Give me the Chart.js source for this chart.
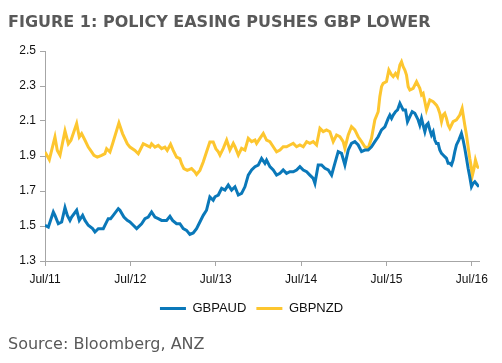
<!DOCTYPE html>
<html lang="en">
<head>
  <meta charset="UTF-8">
  <title>Policy easing pushes GBP lower</title>
  <script src="https://cdn.jsdelivr.net/npm/chart.js"></script>
  <style>
    body { margin: 0; background: #fff; }
    #wrap { position: relative; width: 502px; height: 363px; }
    #title { position: absolute; left: 8px; top: 13px; font: bold 16px 'DejaVu Sans'; color: #595959; line-height: 17px; white-space: nowrap; }
    #source { position: absolute; left: 8px; top: 335px; font: 16px 'DejaVu Sans'; color: #595959; line-height: 17px; white-space: nowrap; }
    canvas { position: absolute; left: 0; top: 0; }
  </style>
</head>
<body>
<div id="wrap">
  <canvas id="myChart" width="502" height="363"></canvas>
  <div id="title">FIGURE 1: POLICY EASING PUSHES GBP LOWER</div>
  <div id="source">Source: Bloomberg, ANZ</div>
</div>

<script>
  // months since Jul 2011
  const audMonths = [0, 0.47, 1.17, 1.40, 1.87, 2.34, 2.81, 3.14, 3.51, 3.74, 4.45, 4.82, 5.29, 5.62, 6.08, 6.69, 7.02, 7.49, 8.19, 8.42,
    8.89, 9.22, 9.59, 10.30, 10.53, 11.09, 11.56, 11.94, 12.41, 12.88, 13.58, 14.05, 14.51, 14.98, 15.45, 15.92, 16.39, 17.09, 17.56, 17.93,
    18.49, 18.96, 19.43, 19.90, 20.36, 20.83, 21.30, 21.77, 22.24, 22.70, 23.17, 23.64, 23.89, 24.36, 24.83, 25.29, 25.76, 26.23, 26.70, 27.17,
    27.63, 28.10, 28.57, 29.04, 29.51, 29.97, 30.44, 30.91, 31.14, 31.61, 32.08, 32.55, 33.02, 33.48, 33.95, 34.42, 34.89, 35.36, 35.83, 36.30,
    36.77, 37.23, 37.70, 37.94, 38.40, 38.87, 39.34, 39.81, 40.28, 40.74, 41.21, 41.68, 42.15, 42.62, 43.08, 43.55, 44.02, 44.49, 44.96, 45.42,
    45.89, 46.36, 46.83, 47.30, 47.77, 48.24, 48.47, 48.71, 48.94, 49.27, 49.55, 49.88, 50.11, 50.34, 50.67, 50.95, 51.28, 51.61, 51.98, 52.22,
    52.45, 52.68, 52.92, 53.15, 53.39, 53.62, 53.85, 54.09, 54.32, 54.56, 54.79, 55.02, 55.26, 55.49, 55.73, 55.96, 56.19, 56.43, 56.66, 56.90,
    57.13, 57.36, 57.60, 57.83, 58.16, 58.53, 58.77, 59.00, 59.24, 59.47, 59.70, 59.94, 60.17, 60.41, 60.78, 61.00];
  const gbpaud = [1.504, 1.494, 1.580, 1.561, 1.513, 1.523, 1.605, 1.561, 1.532, 1.551, 1.590, 1.532, 1.561, 1.532, 1.504, 1.485, 1.466, 1.485, 1.485, 1.504,
    1.542, 1.542, 1.561, 1.599, 1.590, 1.551, 1.532, 1.523, 1.504, 1.485, 1.513, 1.542, 1.551, 1.580, 1.551, 1.542, 1.532, 1.532, 1.555, 1.532,
    1.513, 1.513, 1.485, 1.475, 1.452, 1.460, 1.485, 1.523, 1.561, 1.590, 1.666, 1.647, 1.667, 1.677, 1.715, 1.705, 1.734, 1.705, 1.724, 1.677,
    1.686, 1.724, 1.791, 1.820, 1.839, 1.848, 1.886, 1.858, 1.877, 1.839, 1.820, 1.791, 1.801, 1.820, 1.801, 1.810, 1.810, 1.820, 1.839, 1.820,
    1.810, 1.791, 1.772, 1.744, 1.849, 1.849, 1.830, 1.820, 1.791, 1.858, 1.925, 1.915, 1.849, 1.934, 1.972, 1.982, 1.963, 1.925, 1.934, 1.934,
    1.953, 1.982, 2.010, 2.049, 2.067, 2.115, 2.134, 2.115, 2.134, 2.153, 2.163, 2.201, 2.182, 2.163, 2.163, 2.096, 2.125, 2.153, 2.144, 2.125,
    2.106, 2.077, 2.115, 2.077, 2.039, 2.077, 2.087, 2.049, 2.020, 2.039, 1.991, 1.972, 1.972, 1.934, 1.915, 1.906, 1.896, 1.887, 1.858, 1.858,
    1.849, 1.877, 1.925, 1.963, 1.991, 2.029, 1.991, 1.944, 1.887, 1.830, 1.782, 1.725, 1.744, 1.753, 1.734, 1.725];

  const nzdMonths = [0, 0.61, 1.40, 1.73, 2.11, 2.81, 3.28, 3.65, 4.45, 4.82, 5.15, 5.62, 6.08, 6.41, 6.88, 7.35, 7.96, 8.42, 8.66, 9.13,
    9.50, 10.39, 10.90, 11.56, 11.94, 12.64, 13.11, 13.81, 14.28, 14.75, 14.98, 15.45, 15.92, 16.39, 16.85, 17.18, 17.65, 18.02, 18.49, 18.96,
    19.19, 19.52, 19.99, 20.60, 21.07, 21.30, 21.77, 22.24, 22.70, 23.17, 23.64, 24.01, 24.36, 24.59, 25.06, 25.53, 25.99, 26.46, 26.70, 27.17,
    27.63, 28.10, 28.57, 29.04, 29.51, 29.74, 30.21, 30.68, 31.14, 31.61, 32.08, 32.55, 33.02, 33.48, 33.95, 34.42, 34.89, 35.36, 35.83, 36.30,
    36.77, 37.23, 37.70, 38.17, 38.64, 39.11, 39.57, 40.04, 40.51, 40.98, 41.45, 41.91, 42.15, 42.62, 43.08, 43.55, 44.02, 44.49, 44.96, 45.42,
    45.89, 46.36, 46.83, 47.06, 47.30, 47.53, 48.00, 48.33, 48.71, 48.94, 49.27, 49.55, 49.88, 50.11, 50.34, 50.58, 50.81, 51.05, 51.28, 51.75,
    52.22, 52.68, 52.92, 53.15, 53.39, 53.62, 53.85, 54.09, 54.56, 55.02, 55.26, 55.49, 55.73, 55.96, 56.19, 56.43, 56.66, 56.90, 57.13, 57.36,
    57.83, 58.30, 58.63, 59.00, 59.24, 59.47, 59.70, 59.94, 60.03, 60.31, 60.50, 60.78, 61.00];
  const gbpnzd = [1.923, 1.879, 2.009, 1.932, 1.904, 2.043, 1.970, 1.990, 2.085, 2.009, 2.028, 1.990, 1.951, 1.932, 1.904, 1.894, 1.904, 1.913, 1.942, 1.923,
    1.970, 2.089, 2.028, 1.970, 1.951, 1.932, 1.913, 1.970, 1.961, 1.951, 1.970, 1.951, 1.961, 1.942, 1.951, 1.932, 1.967, 1.932, 1.894, 1.885,
    1.856, 1.828, 1.818, 1.828, 1.809, 1.795, 1.818, 1.866, 1.923, 1.980, 1.980, 1.942, 1.924, 1.905, 1.944, 1.991, 1.934, 1.972, 1.953, 1.905,
    1.944, 1.934, 2.001, 1.982, 1.991, 1.972, 2.001, 2.029, 1.991, 1.982, 1.953, 1.924, 1.934, 1.953, 1.953, 1.963, 1.972, 1.953, 1.963, 1.953,
    1.982, 1.972, 1.982, 1.963, 2.058, 2.039, 2.049, 2.039, 1.982, 2.020, 2.010, 1.982, 1.944, 2.020, 2.068, 2.049, 2.010, 1.982, 1.953, 1.944,
    2.001, 2.106, 2.153, 2.239, 2.296, 2.315, 2.325, 2.391, 2.363, 2.353, 2.372, 2.353, 2.420, 2.439, 2.410, 2.391, 2.363, 2.296, 2.277, 2.287,
    2.325, 2.287, 2.249, 2.258, 2.210, 2.163, 2.191, 2.220, 2.210, 2.191, 2.172, 2.144, 2.096, 2.134, 2.144, 2.115, 2.077, 2.058, 2.077, 2.096,
    2.106, 2.134, 2.172, 2.077, 2.020, 1.953, 1.887, 1.830, 1.782, 1.830, 1.877, 1.839, 1.830];

  const xTickMonths = [0, 12, 24, 36, 48, 60];
  const xTickLabels = ['Jul/11', 'Jul/12', 'Jul/13', 'Jul/14', 'Jul/15', 'Jul/16'];
  const yTicks = [1.3, 1.5, 1.7, 1.9, 2.1, 2.3, 2.5];

  const toPoints = (xs, ys) => xs.map((x, i) => ({ x: x, y: ys[i] }));
  const axisColor = '#A6A6A6';
  const tickFont = { family: "'Liberation Sans', Arial, sans-serif", size: 12 };

  // nudge the legend so it sits centred like the original
  const legendShift = {
    id: 'legendShift',
    afterLayout(c) {
      if (c.legend) {
        c.legend.left += 12;
        c.legend.right += 12;
      }
    }
  };

  const ctx = document.getElementById('myChart').getContext('2d');
  const chart = new Chart(ctx, {
    type: 'line',
    data: {
      datasets: [{
        label: 'GBPAUD',
        data: toPoints(audMonths, gbpaud),
        borderColor: '#0A78B9',
        backgroundColor: '#0A78B9',
        borderWidth: 3,
        pointRadius: 0,
        tension: 0
      },
      {
        label: 'GBPNZD',
        data: toPoints(nzdMonths, gbpnzd),
        borderColor: '#FDC62F',
        backgroundColor: '#FDC62F',
        borderWidth: 3,
        pointRadius: 0,
        tension: 0
      }]
    },
    plugins: [legendShift],
    options: {
      responsive: false,
      animation: false,
      layout: { padding: { left: 0, top: 51, right: 23, bottom: 38 } },
      plugins: {
        tooltip: { enabled: false },
        legend: {
          position: 'bottom',
          labels: {
            boxWidth: 26,
            boxHeight: 3,
            padding: 10,
            color: '#111',
            font: { family: "'Liberation Sans', Arial, sans-serif", size: 13 },
            generateLabels: (c) => Chart.defaults.plugins.legend.labels.generateLabels(c).map(item => {
              item.lineWidth = 0;
              return item;
            })
          }
        }
      },
      scales: {
        x: {
          type: 'linear',
          min: 0,
          max: 61,
          afterFit: (s) => { s.height = 31; },
          afterBuildTicks: (s) => { s.ticks = xTickMonths.map(v => ({ value: v })); },
          border: { display: true, color: axisColor, width: 1 },
          grid: { display: true, drawOnChartArea: false, drawTicks: true, tickLength: 5, color: axisColor },
          ticks: {
            color: '#111',
            font: tickFont,
            maxRotation: 0,
            padding: 6,
            callback: (value, index) => xTickLabels[index]
          }
        },
        y: {
          min: 1.3,
          max: 2.5,
          afterFit: (s) => { s.width = 45; },
          afterBuildTicks: (s) => { s.ticks = yTicks.map(v => ({ value: v })); },
          border: { display: true, color: axisColor, width: 1 },
          grid: { display: true, drawOnChartArea: false, drawTicks: true, tickLength: 5, color: axisColor },
          ticks: {
            color: '#111',
            font: tickFont,
            padding: 4,
            callback: (value) => value.toFixed(1)
          }
        }
      }
    }
  });
</script>
</body>
</html>
